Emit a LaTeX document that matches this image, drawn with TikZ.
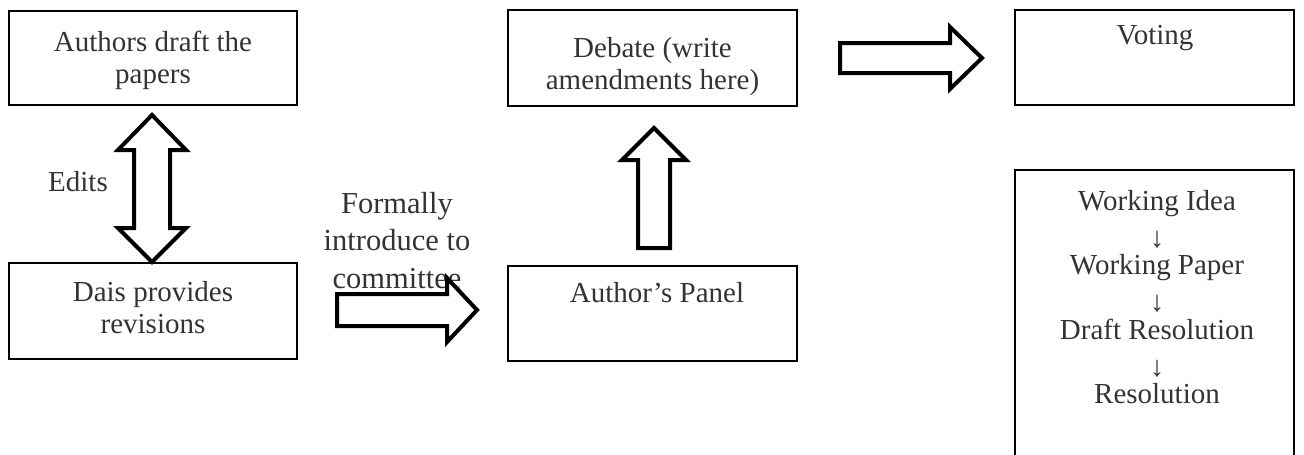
\documentclass[tikz,border=0pt]{standalone}
\usepackage{fontspec}
\setmainfont{Liberation Serif}
\definecolor{txtgray}{HTML}{333333}
\begin{document}
\begin{tikzpicture}[x=1pt,y=-1pt,
  box/.style={draw=black,line width=1.6pt,rectangle,inner sep=0pt},
  txt/.style={text=txtgray,align=center,inner sep=0pt,font=\fontsize{29}{32}\selectfont},
  bigtxt/.style={text=txtgray,align=center,inner sep=0pt,font=\fontsize{30.5}{37.5}\selectfont},
  blockarrow/.style={draw=black,line width=4pt,line join=miter,fill=white}]
\useasboundingbox (0,0) rectangle (1304,455);
% boxes
\node[box,minimum width=288pt,minimum height=94pt] (authors) at (153,58) {};
\node[box,minimum width=288pt,minimum height=96pt] (dais) at (153,311) {};
\node[box,minimum width=289pt,minimum height=96pt] (debate) at (652.5,58) {};
\node[box,minimum width=289pt,minimum height=95pt] (panel) at (652.5,313.5) {};
\node[box,minimum width=279pt,minimum height=95pt] (voting) at (1154.5,57.5) {};
\node[box,minimum width=279pt,minimum height=310pt] (stages) at (1154.5,325) {};
% texts
\node[txt] (tauthors) at (153,60.5) {Authors draft the\\papers};
\node[txt] (tdais) at (153,307.5) {Dais provides\\revisions};
\node[txt] (tdebate) at (652.5,67) {Debate (write\\amendments here)};
\node[txt] (tpanel) at (657,293) {Author’s Panel};
\node[txt] (tvoting) at (1155,38) {Voting};
\node[txt,font=\fontsize{29}{32.2}\selectfont] (tstages) at (1157,297) {Working Idea\\\raisebox{-5pt}{↓}\\Working Paper\\\raisebox{-5pt}{↓}\\Draft Resolution\\\raisebox{-5pt}{↓}\\Resolution};
\node[txt] (tedits) at (78,182) {Edits};
\node[bigtxt] (tformal) at (397,240.5) {Formally\\introduce to\\committee};
% block arrows
\draw[blockarrow] (134,150) -- (118,150) -- (152,115) -- (186,150) -- (170,150)
  -- (170,228) -- (186,228) -- (152,262) -- (118,228) -- (134,228) -- cycle;
\draw[blockarrow] (337,294) -- (447,294) -- (447,278) -- (477,310) -- (447,342)
  -- (447,326) -- (337,326) -- cycle;
\draw[blockarrow] (638,248) -- (638,160) -- (622,160) -- (654,128) -- (686,160)
  -- (670,160) -- (670,248) -- cycle;
\draw[blockarrow] (840,43) -- (950,43) -- (950,27) -- (982,58) -- (950,89)
  -- (950,73) -- (840,73) -- cycle;
\end{tikzpicture}
\end{document}
